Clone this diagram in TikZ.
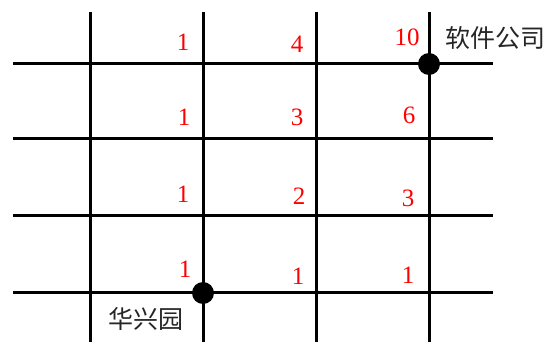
\documentclass[tikz,border=0pt]{standalone}
\usepackage{fontspec}
\setmainfont{Liberation Serif}
\newfontfamily\cjk{Noto Sans CJK SC}
\begin{document}
\begin{tikzpicture}[x=1pt,y=-1pt,
  gridline/.style={line width=3pt, black},
  num/.style={text=red, font=\fontsize{25}{25}\selectfont, inner sep=0pt, anchor=center},
  lbl/.style={text=black!85, font=\cjk\fontsize{25}{25}\selectfont, inner sep=0pt},
  dot/.style={circle, fill=black, minimum size=22pt, inner sep=0pt}]
\useasboundingbox (0,0) rectangle (555,342);
% vertical lines
\foreach \x in {90,203,316,429} \draw[gridline] (\x,12) -- (\x,342);
% horizontal lines
\foreach \y in {64,139,216,293} \draw[gridline] (13,\y) -- (493,\y);
% dots
\node[dot] (soft) at (429,64) {};
\node[dot] (hx) at (203,293) {};
% labels
\node[lbl, anchor=west] (softlbl) at (445,38) {软件公司};
\node[lbl] (hxlbl) at (146,319) {华兴园};
% numbers
\node[num] (a1) at (183,42) {1};
\node[num] (a2) at (184,117) {1};
\node[num] (a3) at (183,194) {1};
\node[num] (a4) at (185,269) {1};
\node[num] (b1) at (297,44) {4};
\node[num] (b2) at (297,117) {3};
\node[num] (b3) at (299,196) {2};
\node[num] (b4) at (298,276) {1};
\node[num] (c1) at (407,37) {10};
\node[num] (c2) at (409,115) {6};
\node[num] (c3) at (408,198) {3};
\node[num] (c4) at (408,275) {1};
\end{tikzpicture}
\end{document}
